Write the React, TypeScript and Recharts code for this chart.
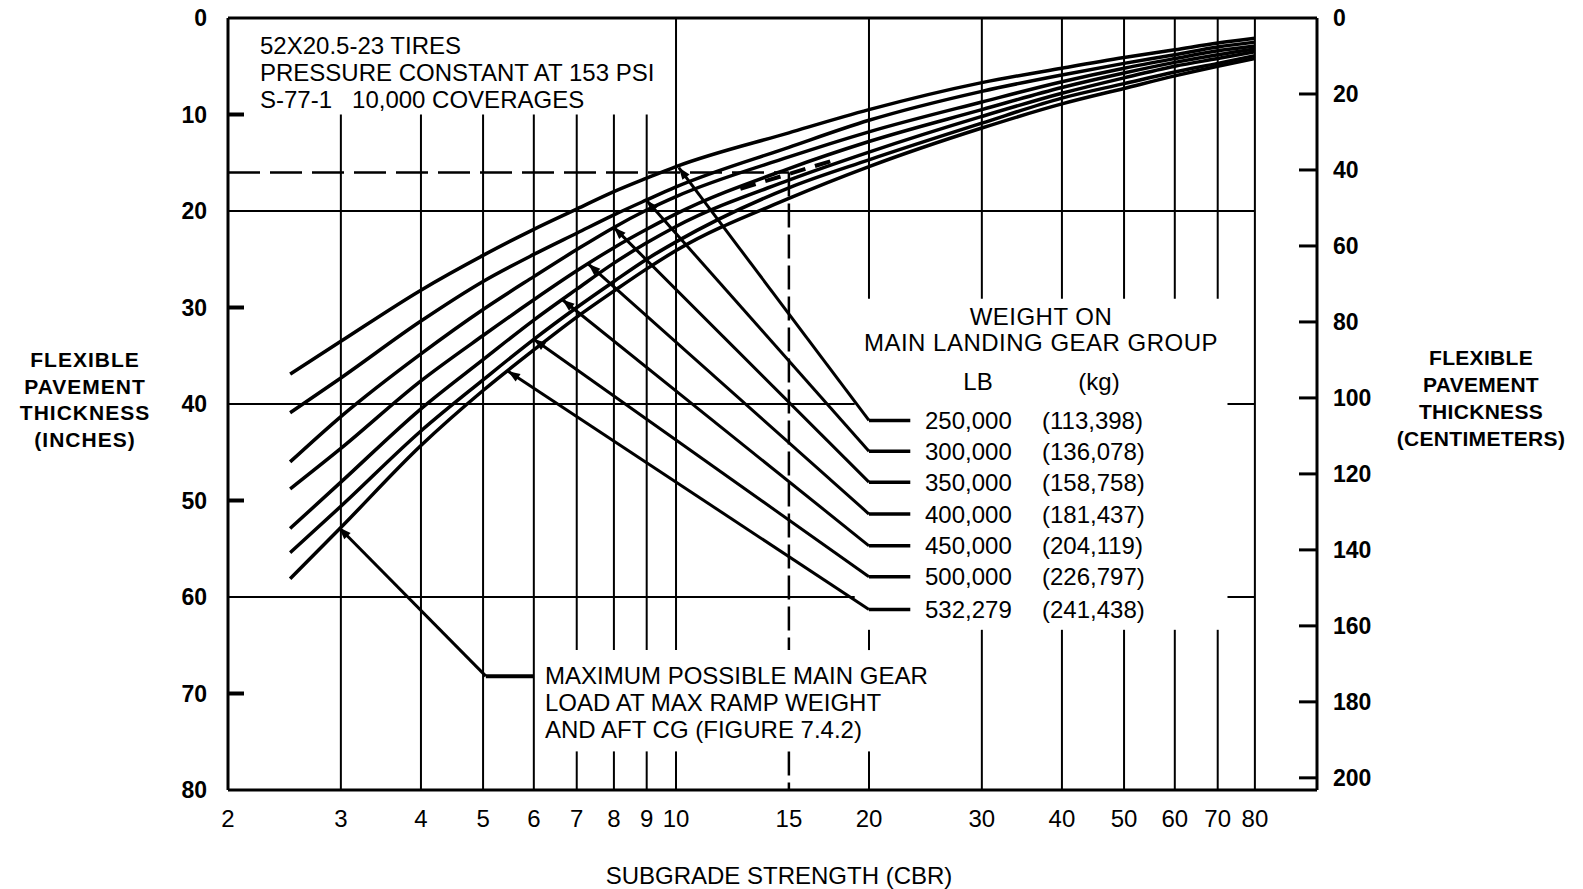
import React from "react";
import { ComposedChart, Line, XAxis, YAxis, ReferenceLine } from "recharts";

// CBR points where the curves were read
const CBR = [2.5, 3, 4, 5, 6, 7, 8, 9, 10, 15, 20, 30, 40, 50, 60, 70, 80];

// pavement thickness (inches) for each gear load
const THK_250K = [36.9, 33.5, 28.2, 24.6, 21.9, 19.8, 18.0, 16.6, 15.4, 11.9, 9.5, 6.7, 5.2, 4.1, 3.3, 2.6, 2.1];
const THK_300K = [40.9, 37.3, 31.4, 27.3, 24.5, 22.3, 20.4, 18.85, 17.5, 13.4, 10.6, 7.6, 5.9, 4.7, 3.8, 3.0, 2.5];
const THK_350K = [46.0, 41.3, 34.8, 30.2, 26.8, 24.0, 21.7, 19.9, 18.5, 14.4, 11.8, 8.7, 6.6, 5.2, 4.2, 3.4, 2.9];
const THK_400K = [48.8, 44.6, 37.6, 32.9, 29.2, 26.2, 23.8, 21.9, 20.3, 15.6, 12.8, 9.5, 7.2, 5.7, 4.6, 3.8, 3.2];
const THK_450K = [52.9, 48.1, 40.5, 35.4, 31.3, 28.1, 25.4, 23.3, 21.6, 16.8, 13.9, 10.2, 7.8, 6.2, 5.0, 4.2, 3.5];
const THK_500K = [55.4, 50.6, 42.8, 37.5, 33.3, 30.0, 27.3, 25.0, 23.2, 17.6, 14.7, 10.9, 8.3, 6.8, 5.6, 4.7, 3.9];
const THK_532K = [58.1, 52.8, 44.3, 38.6, 34.4, 31.0, 28.3, 26.0, 24.1, 18.7, 15.4, 11.4, 8.9, 7.3, 6.0, 5.0, 4.2];

const WEIGHT_LB = ["250,000", "300,000", "350,000", "400,000", "450,000", "500,000", "532,279"];
const WEIGHT_KG = ["(113,398)", "(136,078)", "(158,758)", "(181,437)", "(204,119)", "(226,797)", "(241,438)"];

// where each leader touches its curve, and the legend row it comes from
const LEADER_CBR = [10.1, 9.0, 8.0, 7.3, 6.65, 6.0, 5.47];
const LEADER_THK = [15.5, 18.9, 21.7, 25.5, 29.2, 33.3, 36.6];
const ROW_THK = [41.7, 44.9, 48.1, 51.4, 54.7, 57.9, 61.3];

const X_TICKS = [2, 3, 4, 5, 6, 7, 8, 9, 10, 15, 20, 30, 40, 50, 60, 70, 80];
const IN_TICKS = [0, 10, 20, 30, 40, 50, 60, 70, 80];
const CM_TICKS = [0, 20, 40, 60, 80, 100, 120, 140, 160, 180, 200];

const SERIES = [THK_250K, THK_300K, THK_350K, THK_400K, THK_450K, THK_500K, THK_532K];

// layout
const W = 1583;
const H = 889;
const TOP = 18;
const BOTTOM = 790;
const FONT = '"Liberation Sans", Arial, Helvetica, sans-serif';
const yPx = (inch: number) => TOP + (inch * (BOTTOM - TOP)) / 80;

// grid segments [x, yFrom, yTo] in chart units, gaps left for the text blocks
const V_GRID: [number, number, number][] = [
  [3, 10, 80], [4, 10, 80], [5, 10, 80], [6, 10, 80],
  [7, 10, 65.5], [7, 76, 80], [8, 10, 65.5], [8, 76, 80], [9, 10, 65.5], [9, 76, 80],
  [10, 0, 65.5], [10, 76, 80],
  [20, 0, 29.1], [20, 63.4, 65.5], [20, 76, 80],
  [30, 0, 29.1], [30, 63.4, 80], [40, 0, 29.1], [40, 63.4, 80],
  [50, 0, 29.1], [50, 63.4, 80], [60, 0, 29.1], [60, 63.4, 80],
  [70, 0, 29.1], [70, 63.4, 80], [80, 0, 80],
];
const H_GRID: [number, number, number][] = [
  [20, 2, 80], [40, 2, 19], [40, 72.5, 80], [60, 2, 19], [60, 72.5, 80],
];

const ArrowShape = (p: any) => {
  const { x1, y1, x2, y2 } = p;
  const a = Math.atan2(y2 - y1, x2 - x1);
  const L = 12;
  const hw = 4.5;
  const bx = x2 - L * Math.cos(a);
  const by = y2 - L * Math.sin(a);
  const pts = `${x2},${y2} ${bx - hw * Math.sin(a)},${by + hw * Math.cos(a)} ${bx + hw * Math.sin(a)},${by - hw * Math.cos(a)}`;
  return (
    <g>
      <line x1={x1} y1={y1} x2={x2} y2={y2} stroke="#000" strokeWidth={3} />
      <polygon points={pts} fill="#000" />
    </g>
  );
};

const LeftTick = (props: any) => {
  const { x, y, payload } = props;
  const inward = payload.value % 20 === 10;
  return (
    <g>
      <text x={x} y={y} textAnchor="end" dominantBaseline="central" fontSize={23} fontWeight={700} fontFamily={FONT} fill="#000">
        {payload.value}
      </text>
      {inward && <line x1={x + 21} x2={x + 37} y1={y} y2={y} stroke="#000" strokeWidth={4} />}
    </g>
  );
};

const RightTick = (props: any) => {
  const { x, y, payload } = props;
  return (
    <g>
      <text x={x} y={y} textAnchor="start" dominantBaseline="central" fontSize={23} fontFamily={FONT} fontWeight={700} fill="#000">
        {payload.value}
      </text>
      {payload.value > 0 && <line x1={x - 16} x2={x - 34} y1={y} y2={y} stroke="#000" strokeWidth={3} />}
    </g>
  );
};

const text: React.CSSProperties = {
  position: "absolute",
  fontFamily: FONT,
  fontSize: 24,
  color: "#000",
  whiteSpace: "nowrap",
  lineHeight: "27px",
};

export default function App() {
  const curves = SERIES.map((vals) => CBR.map((x, i) => ({ x, y: vals[i] })));

  return (
    <div style={{ position: "absolute", left: 0, top: 0, width: W, height: H, background: "#fff", overflow: "hidden" }}>
      <ComposedChart width={W} height={H} margin={{ top: TOP, right: 0, bottom: 0, left: 0 }}>
        <XAxis
          type="number"
          dataKey="x"
          scale="log"
          domain={[2, 100]}
          allowDataOverflow
          ticks={X_TICKS}
          interval={0}
          height={H - BOTTOM}
          tickLine={false}
          tickSize={0}
          tickMargin={20}
          axisLine={{ stroke: "#000", strokeWidth: 3 }}
          tick={{ fill: "#000", fontSize: 24, fontFamily: FONT }}
        />
        <YAxis
          yAxisId="in"
          type="number"
          domain={[0, 80]}
          reversed
          allowDataOverflow
          ticks={IN_TICKS}
          interval={0}
          width={228}
          tickLine={false}
          tickSize={0}
          tickMargin={21}
          axisLine={{ stroke: "#000", strokeWidth: 3 }}
          tick={<LeftTick />}
        />
        <YAxis
          yAxisId="cm"
          orientation="right"
          type="number"
          domain={[0, 203.2]}
          reversed
          allowDataOverflow
          ticks={CM_TICKS}
          interval={0}
          width={W - 1317}
          tickLine={false}
          tickSize={0}
          tickMargin={16}
          axisLine={{ stroke: "#000", strokeWidth: 3 }}
          tick={<RightTick />}
        />

        <ReferenceLine yAxisId="in" y={0} stroke="#000" strokeWidth={3} />

        {V_GRID.map(([x, a, b], i) => (
          <ReferenceLine key={`v${i}`} yAxisId="in" segment={[{ x, y: a }, { x, y: b }]} stroke="#000" strokeWidth={2} />
        ))}
        {H_GRID.map(([y, a, b], i) => (
          <ReferenceLine key={`h${i}`} yAxisId="in" segment={[{ x: a, y }, { x: b, y }]} stroke="#000" strokeWidth={2} />
        ))}

        {/* 16 in / CBR 15 dashed guide */}
        <ReferenceLine yAxisId="in" segment={[{ x: 2, y: 16 }, { x: 15, y: 16 }]} stroke="#000" strokeWidth={2.5} strokeDasharray="32 10" />
        <ReferenceLine yAxisId="in" segment={[{ x: 15, y: 16 }, { x: 15, y: 65.5 }]} stroke="#000" strokeWidth={2.5} strokeDasharray="24 7" />
        <ReferenceLine yAxisId="in" segment={[{ x: 15, y: 76 }, { x: 15, y: 80 }]} stroke="#000" strokeWidth={2.5} strokeDasharray="24 7" />
        <ReferenceLine yAxisId="in" segment={[{ x: 12.6, y: 17.7 }, { x: 17.5, y: 14.8 }]} stroke="#000" strokeWidth={4} strokeDasharray="16 10" />

        {curves.map((d, i) => (
          <Line
            key={i}
            yAxisId="in"
            data={d}
            dataKey="y"
            type="monotone"
            stroke="#000"
            strokeWidth={3.5}
            dot={false}
            activeDot={false}
            isAnimationActive={false}
          />
        ))}

        {/* legend leaders */}
        {ROW_THK.map((r, i) => (
          <ReferenceLine key={`s${i}`} yAxisId="in" segment={[{ x: 20, y: r }, { x: 23.2, y: r }]} stroke="#000" strokeWidth={3.5} />
        ))}
        {ROW_THK.map((r, i) => (
          <ReferenceLine
            key={`l${i}`}
            yAxisId="in"
            segment={[{ x: 20, y: r }, { x: LEADER_CBR[i], y: LEADER_THK[i] }]}
            shape={ArrowShape}
          />
        ))}

        {/* max ramp weight note leader */}
        <ReferenceLine yAxisId="in" segment={[{ x: 5.05, y: 68.2 }, { x: 6.0, y: 68.2 }]} stroke="#000" strokeWidth={4} />
        <ReferenceLine yAxisId="in" segment={[{ x: 5.05, y: 68.2 }, { x: 2.98, y: 52.8 }]} shape={ArrowShape} />
      </ComposedChart>

      <div style={{ ...text, left: 260, top: 32 }}>
        52X20.5-23 TIRES
        <br />
        PRESSURE CONSTANT AT 153 PSI
        <br />
        S-77-1&nbsp;&nbsp;&nbsp;10,000 COVERAGES
      </div>

      <div style={{ ...text, left: 1041 - 200, width: 400, textAlign: "center", top: 304, lineHeight: "26px", letterSpacing: 0.5 }}>
        WEIGHT ON
        <br />
        MAIN LANDING GEAR GROUP
      </div>
      <div style={{ ...text, left: 978 - 40, width: 80, textAlign: "center", top: 368 }}>LB</div>
      <div style={{ ...text, left: 1099 - 40, width: 80, textAlign: "center", top: 368 }}>(kg)</div>

      {WEIGHT_LB.map((lb, i) => (
        <React.Fragment key={lb}>
          <div style={{ ...text, left: 925, top: yPx(ROW_THK[i]) - 13.5 }}>{lb}</div>
          <div style={{ ...text, left: 1042, top: yPx(ROW_THK[i]) - 13.5 }}>{WEIGHT_KG[i]}</div>
        </React.Fragment>
      ))}

      <div style={{ ...text, left: 545, top: 662 }}>
        MAXIMUM POSSIBLE MAIN GEAR
        <br />
        LOAD AT MAX RAMP WEIGHT
        <br />
        AND AFT CG (FIGURE 7.4.2)
      </div>

      <div style={{ ...text, left: 85 - 100, width: 200, textAlign: "center", top: 347, fontSize: 21, fontWeight: 700, lineHeight: "26.7px", letterSpacing: 1 }}>
        FLEXIBLE
        <br />
        PAVEMENT
        <br />
        THICKNESS
        <br />
        (INCHES)
      </div>
      <div style={{ ...text, left: 1481 - 110, width: 220, textAlign: "center", top: 344, fontSize: 21, fontWeight: 700, lineHeight: "27px", letterSpacing: 0.3 }}>
        FLEXIBLE
        <br />
        PAVEMENT
        <br />
        THICKNESS
        <br />
        (CENTIMETERS)
      </div>

      <div style={{ ...text, left: 779 - 250, width: 500, textAlign: "center", top: 862 }}>SUBGRADE STRENGTH (CBR)</div>
    </div>
  );
}
